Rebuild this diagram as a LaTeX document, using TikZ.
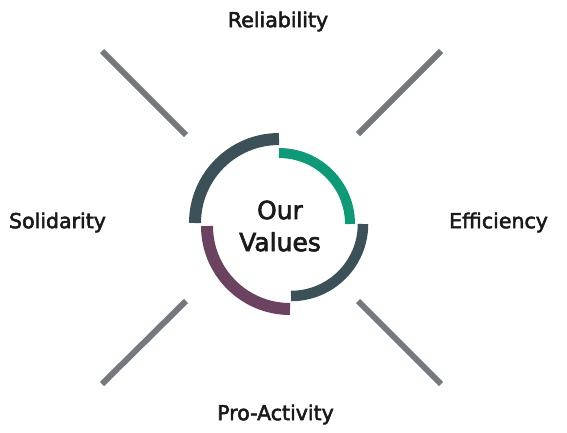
\documentclass[tikz,border=0pt]{standalone}
\usepackage{fontspec}
\newfontfamily\labelfont{DejaVu Sans}[FakeBold=2.6]
\definecolor{slate}{HTML}{3B5157}
\definecolor{teal}{HTML}{0E9A77}
\definecolor{plum}{HTML}{6B4361}
\definecolor{spoke}{HTML}{75797E}
\definecolor{ink}{HTML}{1A1A1A}
\begin{document}
\begin{tikzpicture}[x=1pt,y=-1pt,
  spokeline/.style={draw=spoke,line width=6pt},
  lbl/.style={text=ink,font=\labelfont\fontsize{20.5}{24}\selectfont,inner sep=0pt}]
\useasboundingbox (0,0) rectangle (567,432);
% spokes
\coordinate (tl1) at (102,51); \coordinate (tl2) at (186,135);
\coordinate (tr1) at (441,51); \coordinate (tr2) at (358,134);
\coordinate (br1) at (358,301); \coordinate (br2) at (441,384);
\coordinate (bl1) at (186,301); \coordinate (bl2) at (102,384);
\draw[spokeline] (tl1) -- (tl2);
\draw[spokeline] (tr1) -- (tr2);
\draw[spokeline] (br1) -- (br2);
\draw[spokeline] (bl1) -- (bl2);
% arcs
\draw[draw=slate,line width=12pt] (279,223) ++(-90:84) arc[start angle=-90,end angle=-180,radius=84];
\draw[draw=teal,line width=10pt] (279,224) ++(-90:71) arc[start angle=-90,end angle=0,radius=71];
\draw[draw=slate,line width=10.5pt] (291,224) ++(0:72) arc[start angle=0,end angle=90,radius=72];
\draw[draw=plum,line width=12pt] (290,226) ++(180:83) arc[start angle=180,end angle=90,radius=83];
% labels
\node[lbl] (rel) at (278,21.5) {Reliability};
\node[lbl] (sol) at (57.5,222.5) {Solidarity};
\node[lbl] (eff) at (498.5,222.5) {Efficiency};
\node[lbl] (pro) at (275.5,414.5) {Pro-Activity};
\node[text=ink,font=\labelfont\fontsize{25}{32}\selectfont,align=center,inner sep=0pt] (ov) at (280,226) {Our\\Values};
\end{tikzpicture}
\end{document}
